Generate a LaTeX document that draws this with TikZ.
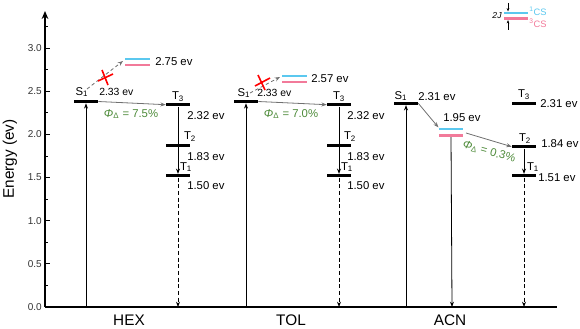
\documentclass[tikz,border=0pt]{standalone}
\usepackage{fontspec}
\setmainfont{Liberation Sans}
\usetikzlibrary{arrows.meta}
\definecolor{csblue}{HTML}{5BC8EF}
\definecolor{cspink}{HTML}{F27A9A}
\definecolor{phigreen}{HTML}{4E8B3A}
\definecolor{arrgray}{HTML}{707070}
\definecolor{axgray}{HTML}{333333}
\begin{document}
\begin{tikzpicture}[x=0.75pt,y=-0.75pt,
  lvl/.style={rectangle, fill=black, inner sep=0pt, minimum width=18pt, minimum height=2.3pt},
  csb/.style={rectangle, fill=csblue, inner sep=0pt, minimum width=18.5pt, minimum height=2pt},
  csp/.style={rectangle, fill=cspink, inner sep=0pt, minimum width=18.5pt, minimum height=2pt},
  lab/.style={font=\fontsize{8.5}{10}\selectfont, inner sep=0pt},
  ev/.style={font=\fontsize{8.5}{10}\selectfont, inner sep=0pt, anchor=west},
  phi/.style={font=\fontsize{8.5}{10}\selectfont, text=phigreen, inner sep=0pt},
  tick/.style={font=\fontsize{7.5}{9}\selectfont, text=axgray, inner sep=0pt, anchor=east},
  up/.style={-{Stealth[length=4pt,width=3pt]}, line width=0.6pt},
  dn/.style={-{Stealth[length=4pt,width=3pt]}, line width=0.6pt},
  dsh/.style={-{Stealth[length=4pt,width=3pt]}, line width=0.6pt, dash pattern=on 3pt off 2pt},
  gar/.style={-{Stealth[length=4pt,width=3pt]}, line width=0.6pt, arrgray},
  gdsh/.style={-{Stealth[length=4pt,width=3pt]}, line width=0.6pt, arrgray, dash pattern=on 2.5pt off 2pt},
  xmark/.style={red, line width=1.2pt},
  axlab/.style={font=\fontsize{11.5}{13}\selectfont, inner sep=0pt}
]
\useasboundingbox (0,0) rectangle (580,328);

% ---------- axes ----------
\coordinate (o) at (45,307);
\coordinate (ytop) at (45,11);
\coordinate (xend) at (557,307);
\draw[line width=1.3pt] (o) -- (xend);
\draw[line width=1.1pt, -{Stealth[length=6pt,width=5pt]}] (o) -- (ytop);
\foreach \v/\t in {0/0.0,0.5/0.5,1/1.0,1.5/1.5,2/2.0,2.5/2.5,3/3.0}{
  \draw[line width=0.6pt] (45,{307-\v*86.33}) -- (50,{307-\v*86.33});
  \node[tick] at (42,{307-\v*86.33}) {\t};
}
\foreach \v in {0.25,0.75,1.25,1.75,2.25,2.75,3.25}{
  \draw[line width=0.6pt] (45,{307-\v*86.33}) -- (48,{307-\v*86.33});
}
\node[axlab, rotate=90] (ylab) at (10,159) {Energy (ev)};
\node[axlab] (lhex) at (129,320) {HEX};
\node[axlab] (ltol) at (291,320) {TOL};
\node[axlab] (lacn) at (450,320) {ACN};

% ---------- HEX ----------
\node[lvl] (hS1) at (86,101.5) {};
\node[lvl] (hT3) at (178,104.7) {};
\node[lvl] (hT2) at (178,145.7) {};
\node[lvl] (hT1) at (178,175.7) {};
\node[csb] (hCb) at (137.5,59) {};
\node[csp] (hCp) at (137.5,65) {};
\coordinate (hb1) at (86,307);
\coordinate (hb2) at (178,307);
\coordinate (hd0) at (87,89);
\coordinate (hd1) at (123,61);
\draw[up] (hb1) -- (hS1.south);
\draw[dn] (hT3.south) -- (hT1.north);
\draw[dsh] (hT1.south) -- (hb2);
\draw[gar] (hS1.east) -- (hT3.west);
\draw[gdsh] (hd0) -- (hd1);
\draw[xmark] (98,81) -- (113,74);
\draw[xmark] (102,70) -- (108,85);
\node[lab] (hS1l) at (82,92) {S\textsubscript{1}};
\node[ev, font=\fontsize{7.8}{9}\selectfont] (hS1e) at (99,92) {2.33 ev};
\node[lab] (hT3l) at (178,97) {T\textsubscript{3}};
\node[ev] (hT3e) at (187,116) {2.32 ev};
\node[lab] (hT2l) at (190,137) {T\textsubscript{2}};
\node[ev] (hT2e) at (187,157) {1.83 ev};
\node[lab] (hT1l) at (186,167) {T\textsubscript{1}};
\node[ev] (hT1e) at (187,186) {1.50 ev};
\node[ev] (hCe) at (155,62) {2.75 ev};
\node[phi] (hphi) at (131,114) {\textit{Φ}\textsubscript{Δ} = 7.5\%};

% ---------- TOL ----------
\node[lvl] (tS1) at (246,101.5) {};
\node[lvl] (tT3) at (339,104.7) {};
\node[lvl] (tT2) at (339,145.7) {};
\node[lvl] (tT1) at (339,175.7) {};
\node[csb] (tCb) at (294.5,76) {};
\node[csp] (tCp) at (294.5,82) {};
\coordinate (tb1) at (246,307);
\coordinate (tb2) at (339,307);
\coordinate (td0) at (250,93);
\coordinate (td1) at (280,77);
\draw[up] (tb1) -- (tS1.south);
\draw[dn] (tT3.south) -- (tT1.north);
\draw[dsh] (tT1.south) -- (tb2);
\draw[gar] (tS1.east) -- (tT3.west);
\draw[gdsh] (td0) -- (td1);
\draw[xmark] (255,86) -- (270,78);
\draw[xmark] (258,75) -- (265,90);
\node[lab] (tS1l) at (244,93) {S\textsubscript{1}};
\node[ev, font=\fontsize{7.8}{9}\selectfont] (tS1e) at (257,93) {2.33 ev};
\node[lab] (tT3l) at (339,97) {T\textsubscript{3}};
\node[ev] (tT3e) at (347,116) {2.32 ev};
\node[lab] (tT2l) at (350,137) {T\textsubscript{2}};
\node[ev] (tT2e) at (347,157) {1.83 ev};
\node[lab] (tT1l) at (347,167) {T\textsubscript{1}};
\node[ev] (tT1e) at (347,186) {1.50 ev};
\node[ev] (tCe) at (311,79) {2.57 ev};
\node[phi] (tphi) at (291,114) {\textit{Φ}\textsubscript{Δ} = 7.0\%};

% ---------- ACN ----------
\node[lvl] (aS1) at (406,103.3) {};
\node[lvl] (aT3) at (524,103.3) {};
\node[lvl] (aT2) at (524,146.7) {};
\node[lvl] (aT1) at (524,175.7) {};
\node[csb] (aCb) at (451,129) {};
\node[csp] (aCp) at (451,135.5) {};
\coordinate (ab1) at (406,307);
\coordinate (ab2) at (452,307);
\coordinate (ab3) at (524,307);
\coordinate (aCm) at (466,133);
\draw[up] (ab1) -- (aS1.south);
\draw[dn] (aCp.south) -- (ab2);
\draw[gar] (aS1.east) -- (aCb.north west);
\draw[gar] (aCm) -- (aT2.west);
\draw[dn] (aT2.south) -- (aT1.north);
\draw[dsh] (aT1.south) -- (ab3);
\node[lab] (aS1l) at (401,96) {S\textsubscript{1}};
\node[ev] (aS1e) at (418,97) {2.31 ev};
\node[ev] (aCe) at (443,118) {1.95 ev};
\node[lab] (aT3l) at (524,95) {T\textsubscript{3}};
\node[ev] (aT3e) at (540,104) {2.31 ev};
\node[lab] (aT2l) at (525,139) {T\textsubscript{2}};
\node[ev] (aT2e) at (541,144) {1.84 ev};
\node[lab] (aT1l) at (533,167) {T\textsubscript{1}};
\node[ev] (aT1e) at (538,178) {1.51 ev};
\node[phi, rotate=-16] (aphi) at (489,152) {\textit{Φ}\textsubscript{Δ} = 0.3\%};

% ---------- legend ----------
\node[csb, minimum width=18pt] (gCb) at (516,13) {};
\node[csp, minimum width=18pt] (gCp) at (516,18.5) {};
\coordinate (ga0) at (508,3);
\coordinate (ga1) at (508,30);
\draw[-{Stealth[length=2.5pt,width=2pt]}, line width=0.4pt] (ga0) -- (gCb.north -| ga0);
\draw[-{Stealth[length=2.5pt,width=2pt]}, line width=0.4pt] (ga1) -- (gCp.south -| ga1);
\node[font=\fontsize{6.5}{8}\selectfont\itshape, inner sep=0pt] (g2J) at (497,16) {2J};
\node[font=\fontsize{7}{8}\selectfont, text=csblue, inner sep=0pt, anchor=west] (g1) at (529,11) {\textsuperscript{1}CS};
\node[font=\fontsize{7}{8}\selectfont, text=cspink, inner sep=0pt, anchor=west] (g3) at (529,23) {\textsuperscript{3}CS};
\end{tikzpicture}
\end{document}
